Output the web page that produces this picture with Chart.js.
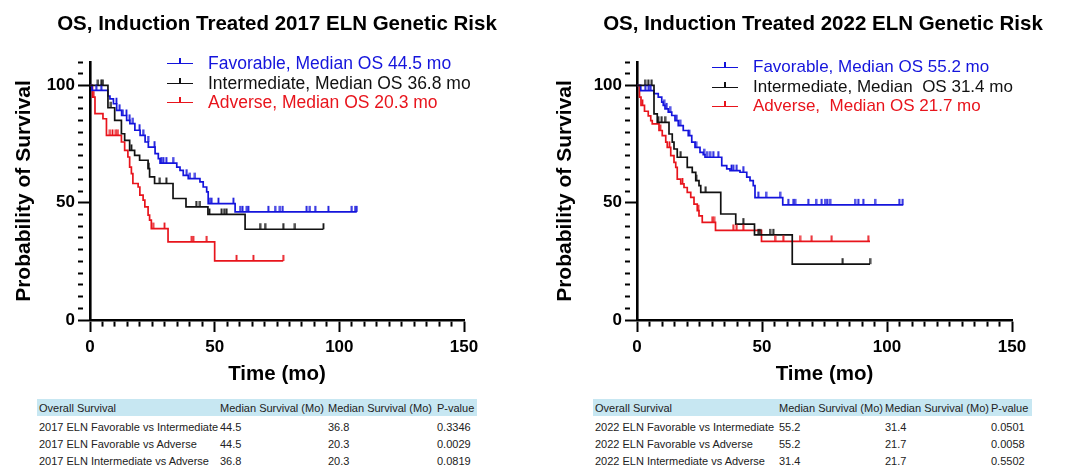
<!DOCTYPE html>
<html><head><meta charset="utf-8">
<script src="https://cdn.jsdelivr.net/npm/chart.js@4.4.1/dist/chart.umd.min.js"></script>
<style>
html,body{margin:0;padding:0;background:#fff;}
body{width:1080px;height:471px;position:relative;overflow:hidden;font-family:Arial,"Liberation Sans",sans-serif;}
canvas.c{position:absolute;top:0;}
.title{position:absolute;font-weight:bold;font-size:20.5px;white-space:nowrap;transform:translate(-50%,-50%);color:#000;}
.legrow{position:absolute;height:20px;display:flex;align-items:center;white-space:pre;font-size:17.5px;}
.sw{position:absolute;height:1.6px;width:26px;}
.sw i{position:absolute;left:12px;top:-5px;width:1.8px;height:6px;}
.band{position:absolute;background:#c7e7f2;}
.cell{position:absolute;font-size:11px;color:#222;white-space:nowrap;transform:translateY(-50%);}
</style></head>
<body>
<canvas id="c2017" class="c" width="540" height="395" style="left:0"></canvas>
<canvas id="c2022" class="c" width="540" height="395" style="left:540px"></canvas>
<div id="overlay"></div>
<script>
// ---------- data ----------
const titles = ['OS, Induction Treated 2017 ELN Genetic Risk', 'OS, Induction Treated 2022 ELN Genetic Risk'];
const xTitle = 'Time (mo)';
const yTitle = 'Probability of Survival';

const legend2017 = ['Favorable, Median OS 44.5 mo', 'Intermediate, Median OS 36.8 mo', 'Adverse, Median OS 20.3 mo'];
const legend2022 = ['Favorable, Median OS 55.2 mo', 'Intermediate, Median  OS 31.4 mo', 'Adverse,  Median OS 21.7 mo'];

// 2017 ELN
const fav2017_t = [0, 0.8, 7.2, 8.0, 9.4, 10.7, 12.7, 14.7, 16.0, 18.0, 20.1, 22.1, 23.4, 26.1, 27.4, 28.1, 34.8, 36.1, 37.4, 39.4, 44.1, 45.4, 46.8, 47.4, 58.2, 107];
const fav2017_s = [100, 97.9, 95.5, 94.3, 92.2, 89.4, 87.2, 85.1, 83.7, 80.9, 78.7, 75.9, 73.7, 70.9, 68.8, 66.9, 65.2, 63.8, 61.7, 60.3, 58.9, 56.7, 54.6, 49.6, 46.1, 46.1];
const fav2017_cens = [2.5, 4.5, 10.6, 11.9, 13.2, 14.6, 15.9, 17.2, 19.9, 21.3, 23.3, 25.9, 28.6, 29.4, 30.6, 33.3, 38.8, 40.1, 42.1, 48.1, 48.8, 51.5, 57.5, 60.2, 61.2, 62.9, 63.5, 71.5, 74.2, 76.2, 77.3, 86.9, 88.2, 90.3, 95.6, 105, 106.3, 107];

const int2017_t = [0, 7.2, 9.9, 12.6, 13.9, 15.9, 17.9, 19.9, 23.3, 23.9, 25.9, 33.3, 38.5, 47.3, 62.2, 93.6];
const int2017_s = [100, 90.5, 85.1, 79.4, 76.6, 72.3, 70.2, 68.1, 64.5, 61.0, 58.2, 51.8, 48.2, 45.0, 38.7, 38.7];
const int2017_cens = [3.2, 4.5, 5.2, 8.4, 16.6, 23.6, 28.0, 30.6, 42.6, 44.1, 47.9, 52.8, 53.8, 54.8, 68.2, 70.2, 77.5, 82.2, 93.6];

const adv2017_t = [0, 1.0, 2.0, 5.2, 6.6, 12.6, 13.9, 15.2, 15.9, 16.6, 17.2, 19.3, 20.0, 21.3, 22.0, 23.3, 23.9, 24.6, 31.3, 50.0, 77.5];
const adv2017_s = [100, 95, 88, 85.8, 78.7, 75.9, 72.3, 69.5, 65.2, 62.4, 58.2, 56.7, 53.2, 51.1, 48.2, 44.7, 42.6, 39.0, 33.3, 25.2, 25.2];
const adv2017_cens = [1.5, 8.0, 9.0, 10.4, 11.2, 25.3, 29.9, 40.8, 41.4, 46.8, 58.8, 65.5, 77.5];

// 2022 ELN
const fav2022_t = [0, 1.5, 6.8, 8.5, 9.9, 10.5, 11.2, 12.5, 13.9, 15.2, 16.5, 18.5, 20.5, 21.9, 23.2, 25.2, 26.5, 27.2, 33.9, 35.9, 37.2, 41.2, 43.9, 45.2, 46.5, 47.2, 58.3, 106.5];
const fav2022_s = [100, 97.8, 96.5, 95.0, 92.9, 91.5, 90.0, 88.6, 87.2, 85.0, 82.9, 80.8, 78.6, 75.8, 73.6, 71.5, 70.5, 69.4, 65.8, 64.4, 63.7, 63.0, 60.9, 59.4, 57.3, 52.2, 49.1, 49.1];
const fav2022_cens = [3.3, 4.7, 5.5, 10.8, 11.9, 13.2, 15.9, 17.2, 20.9, 23.6, 26.8, 28.0, 29.2, 30.5, 32.5, 37.8, 38.5, 39.9, 42.5, 48.5, 51.6, 57.2, 60.5, 62.5, 63.2, 68.5, 71.6, 73.9, 75.2, 76.1, 77.2, 87.2, 88.5, 90.5, 95.2, 104.9, 106.3];

const int2022_t = [0, 6.8, 8.1, 12.8, 14.1, 14.8, 16.1, 20.1, 22.1, 23.5, 24.8, 25.5, 33.5, 39.5, 47.0, 62.1, 93.2];
const int2022_s = [100, 87.9, 84.3, 79.3, 75.8, 72.9, 69.4, 65.1, 62.9, 59.4, 57.3, 54.4, 45.2, 40.9, 36.3, 23.8, 23.8];
const int2022_cens = [3.2, 4.5, 5.9, 8.5, 9.9, 11.2, 17.5, 23.6, 27.5, 42.5, 48.5, 49.2, 53.2, 54.5, 82.3, 93.2];

const adv2022_t = [0, 1.0, 1.6, 3.0, 4.5, 5.5, 6.1, 8.8, 10.1, 11.5, 12.1, 13.5, 14.8, 15.5, 16.1, 17.5, 18.8, 20.1, 21.5, 22.8, 24.1, 24.8, 26.1, 31.4, 49.8, 93.2];
const adv2022_s = [100, 95, 91.5, 89, 87, 85, 83.6, 80.8, 78.6, 75.8, 73.6, 70.1, 67.2, 65.1, 60.1, 58.0, 56.5, 54.4, 52.3, 49.4, 46.6, 44.4, 41.6, 38.2, 33.5, 33.5];
const adv2022_cens = [2.2, 9.3, 13.0, 18.2, 24.5, 30.1, 30.8, 38.5, 39.9, 42.5, 55.2, 58.5, 65.2, 69.9, 77.9, 92.5];

// axis ticks
const xTickLabels = [0, 50, 100, 150];
const yTickLabels = [0, 50, 100];
const MINOR_STEP = 5;

// tables
const tableHead = ['Overall Survival', 'Median Survival (Mo)', 'Median Survival (Mo)', 'P-value'];
const table2017 = [
  ['2017 ELN Favorable vs Intermediate', '44.5', '36.8', '0.3346'],
  ['2017 ELN Favorable vs Adverse', '44.5', '20.3', '0.0029'],
  ['2017 ELN Intermediate vs Adverse', '36.8', '20.3', '0.0819']
];
const table2022 = [
  ['2022 ELN Favorable vs Intermediate', '55.2', '31.4', '0.0501'],
  ['2022 ELN Favorable vs Adverse', '55.2', '21.7', '0.0058'],
  ['2022 ELN Intermediate vs Adverse', '31.4', '21.7', '0.5502']
];

// ---------- styling ----------
const BLUE = '#1414dc', BLACK = '#111111', RED = '#e8141c';
const colors = [BLUE, BLACK, RED];

function tickImg(color) {
  const c = document.createElement('canvas');
  c.width = 3; c.height = 14;
  const g = c.getContext('2d');
  g.fillStyle = color;
  g.fillRect(0.6, 1, 1.8, 6);
  return c;
}
function survAt(ts, ss, t) {
  let s = ss[0];
  for (let i = 0; i < ts.length; i++) if (ts[i] <= t) s = ss[i];
  return s;
}
function allTicks(scale) {
  const out = [];
  for (let v = scale.min; v <= scale.max + 1e-6; v += MINOR_STEP) out.push({value: v});
  scale.ticks = out;
}
const isMajor = (v, labels) => labels.indexOf(v) >= 0;

function makeChart(id, series, L) {
  const datasets = [];
  [1, 0, 2].forEach(k => {
    const s = series[k];
    datasets.push({
      type: 'line', showLine: false,
      data: s.c.map(t => ({x: t, y: survAt(s.t, s.s, t)})),
      pointStyle: tickImg(colors[k]), pointRadius: 4, pointHoverRadius: 4,
      borderColor: colors[k], backgroundColor: colors[k]
    });
  });
  [1, 0, 2].forEach(k => {
    const s = series[k];
    datasets.push({
      type: 'line',
      data: s.t.map((t, i) => ({x: t, y: s.s[i]})),
      stepped: 'before', borderColor: colors[k], borderWidth: 1.7,
      pointRadius: 0, fill: false, tension: 0
    });
  });
  const tickFont = {family: 'Arial, "Liberation Sans", sans-serif', size: 17, weight: 'bold'};
  const titleFont = {family: 'Arial, "Liberation Sans", sans-serif', size: 20.5, weight: 'bold'};
  const gridFor = labels => ({
    display: true, drawOnChartArea: false, drawTicks: true, tickLength: 12,
    tickColor: '#000', tickWidth: 2,
    tickBorderDash: c => (c.tick && isMajor(c.tick.value, labels)) ? [] : [5, 40]
  });
  return new Chart(document.getElementById(id), {
    type: 'line',
    data: {datasets},
    options: {
      responsive: false, animation: false, devicePixelRatio: 1,
      layout: {padding: {top: 62, right: L.padRight, bottom: 0, left: 0}},
      plugins: {legend: {display: false}, tooltip: {enabled: false}, title: {display: false}},
      scales: {
        x: {
          type: 'linear', min: 0, max: 150,
          grid: gridFor(xTickLabels),
          border: {display: true, color: '#000', width: 2.6},
          afterBuildTicks: allTicks,
          ticks: {font: tickFont, color: '#000', padding: 5, maxRotation: 0, autoSkip: false,
                  callback: v => isMajor(v, xTickLabels) ? String(v) : ''},
          title: {display: true, text: xTitle, font: titleFont, color: '#000', padding: {top: 0, bottom: 8}},
          afterFit: s => { s.height = 75; }
        },
        y: {
          type: 'linear', min: 0, max: 110,
          grid: gridFor(yTickLabels),
          border: {display: true, color: '#000', width: 2.6},
          afterBuildTicks: allTicks,
          ticks: {font: tickFont, color: '#000', padding: L.yLabelPad, autoSkip: false,
                  callback: v => isMajor(v, yTickLabels) ? String(v) : ''},
          title: {display: true, text: yTitle, font: {family: 'Arial, "Liberation Sans", sans-serif', size: 21, weight: 'bold'}, color: '#000', padding: {top: L.yTitlePad, bottom: 0}},
          afterFit: s => { s.width = L.yWidth; }
        }
      }
    }
  });
}

makeChart('c2017', [
  {t: fav2017_t, s: fav2017_s, c: fav2017_cens},
  {t: int2017_t, s: int2017_s, c: int2017_cens},
  {t: adv2017_t, s: adv2017_s, c: adv2017_cens}
], {yWidth: 90, padRight: 76, yLabelPad: 3, yTitlePad: 12});

makeChart('c2022', [
  {t: fav2022_t, s: fav2022_s, c: fav2022_cens},
  {t: int2022_t, s: int2022_s, c: int2022_cens},
  {t: adv2022_t, s: adv2022_s, c: adv2022_cens}
], {yWidth: 97, padRight: 68, yLabelPad: 3, yTitlePad: 12.5});

// ---------- overlay text: titles, legends, tables ----------
const ov = document.getElementById('overlay');
function el(cls, css, text) {
  const d = document.createElement('div');
  d.className = cls; Object.assign(d.style, css);
  if (text !== undefined) d.textContent = text;
  ov.appendChild(d); return d;
}
el('title', {left: '277px', top: '22.5px'}, titles[0]);
el('title', {left: '823px', top: '23px'}, titles[1]);

function legend(texts, swLeft, txtLeft, rowTops, fs) {
  texts.forEach((txt, k) => {
    const row = el('legrow', {left: swLeft + 'px', top: rowTops[k] - 10 + 'px', fontSize: fs + 'px', color: colors[k]});
    const sw = document.createElement('div'); sw.className = 'sw';
    sw.style.background = colors[k]; sw.style.left = '0px'; sw.style.top = '9.5px';
    const tk = document.createElement('i'); tk.style.background = colors[k]; sw.appendChild(tk);
    row.appendChild(sw);
    const sp = document.createElement('span'); sp.textContent = txt;
    sp.style.marginLeft = (txtLeft - swLeft) + 'px';
    row.appendChild(sp);
  });
}
legend(legend2017, 167, 208, [63, 83, 102], 17.5);
legend(legend2022, 712, 753, [67, 87, 106], 17);

function table(rows, bandL, bandR, cols) {
  el('band', {left: bandL + 'px', top: '399px', width: (bandR - bandL) + 'px', height: '17px'});
  const ys = [408, 426.5, 444, 461];
  tableHead.forEach((h, j) => el('cell', {left: cols[j] + 'px', top: ys[0] + 'px'}, h));
  rows.forEach((r, i) => r.forEach((v, j) => el('cell', {left: cols[j] + 'px', top: ys[i + 1] + 'px'}, v)));
}
table(table2017, 37, 477, [39, 220, 328, 437]);
table(table2022, 593, 1032, [595, 779, 885, 991]);
</script>
</body></html>
